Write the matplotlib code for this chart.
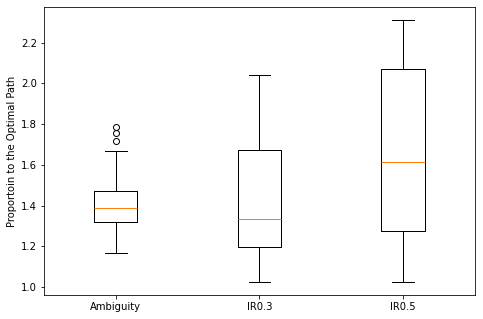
import matplotlib
matplotlib.use("Agg")
import matplotlib.pyplot as plt

labels = ["Ambiguity", "IR0.3", "IR0.5"]
whislo = [1.167, 1.026, 1.025]
q1 = [1.320, 1.197, 1.277]
med = [1.389, 1.334, 1.615]
q3 = [1.472, 1.674, 2.072]
whishi = [1.669, 2.043, 2.311]
fliers = [[1.718, 1.757, 1.787], [], []]

stats = []
for i in range(len(labels)):
    stats.append({"label": labels[i], "whislo": whislo[i], "q1": q1[i], "med": med[i],
                  "q3": q3[i], "whishi": whishi[i], "fliers": fliers[i]})

fig = plt.figure(figsize=(483 / 72, 319 / 72), dpi=72)
ax = fig.add_axes([0.091, 0.075, 0.892, 0.903])
ax.bxp(stats)
ax.set_ylabel("Proportoin to the Optimal Path")
fig.savefig("out.png", dpi=72)
